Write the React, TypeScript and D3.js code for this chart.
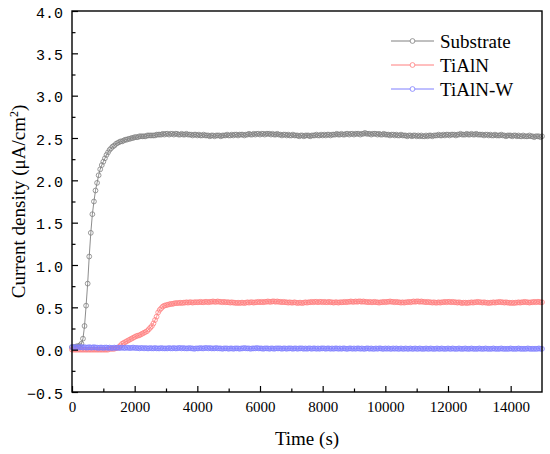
import { useEffect, useRef } from 'react';
import * as d3 from 'd3';

// sampling interval of the potentiostat record (s)
const sampleInterval = 50;

const seriesNames = ['Substrate', 'TiAlN', 'TiAlN-W'];
const seriesColors = ['#808080', '#ff7f7f', '#7f7fff'];

const xTicks = [0, 2000, 4000, 6000, 8000, 10000, 12000, 14000];
const xMinorTicks = [1000, 3000, 5000, 7000, 9000, 11000, 13000];
const yTicks = [-0.5, 0, 0.5, 1, 1.5, 2, 2.5, 3, 3.5, 4];
const yMinorTicks = [-0.25, 0.25, 0.75, 1.25, 1.75, 2.25, 2.75, 3.25, 3.75];

// current density, µA/cm², one value per sample
const substrate = [
  0.03, 0.03, 0.03, 0.04, 0.04, 0.05, 0.07,
  0.13, 0.28, 0.52, 0.78, 1.10, 1.38, 1.60, 1.75, 1.88, 1.97, 2.06, 2.13, 2.18, 2.22,
  2.26, 2.30, 2.33, 2.36, 2.38, 2.40, 2.41, 2.43, 2.44, 2.45, 2.46, 2.46, 2.47, 2.48, 2.48, 2.49, 2.49, 2.50, 2.50, 2.51,
  2.51, 2.51, 2.52, 2.52, 2.52, 2.52, 2.52, 2.53, 2.53, 2.53, 2.53, 2.53, 2.53, 2.54, 2.54, 2.54, 2.54, 2.55, 2.54, 2.55,
  2.55, 2.54, 2.55, 2.55, 2.54, 2.55, 2.55, 2.54, 2.54, 2.55, 2.54, 2.54, 2.55, 2.54, 2.54, 2.54, 2.53, 2.54, 2.54, 2.53,
  2.54, 2.53, 2.53, 2.54, 2.53, 2.53, 2.53, 2.52, 2.53, 2.53, 2.52, 2.53, 2.53, 2.53, 2.52, 2.53, 2.53, 2.53, 2.54, 2.53,
  2.53, 2.54, 2.53, 2.54, 2.54, 2.53, 2.54, 2.54, 2.54, 2.53, 2.54, 2.54, 2.55, 2.54, 2.54, 2.55, 2.54, 2.55, 2.55, 2.54,
  2.55, 2.55, 2.54, 2.55, 2.55, 2.55, 2.54, 2.55, 2.54, 2.54, 2.55, 2.54, 2.54, 2.53, 2.54, 2.54, 2.53, 2.54, 2.53, 2.53,
  2.54, 2.53, 2.53, 2.53, 2.52, 2.53, 2.53, 2.52, 2.53, 2.53, 2.53, 2.52, 2.53, 2.53, 2.53, 2.54, 2.53, 2.53, 2.54, 2.53,
  2.54, 2.53, 2.54, 2.54, 2.53, 2.54, 2.54, 2.54, 2.55, 2.54, 2.54, 2.55, 2.54, 2.54, 2.55, 2.55, 2.54, 2.55, 2.55, 2.54,
  2.55, 2.55, 2.55, 2.54, 2.55, 2.55, 2.56, 2.55, 2.55, 2.55, 2.54, 2.55, 2.55, 2.55, 2.54, 2.55, 2.54, 2.54, 2.55, 2.54,
  2.54, 2.54, 2.53, 2.54, 2.54, 2.53, 2.54, 2.53, 2.53, 2.54, 2.53, 2.53, 2.53, 2.52, 2.53, 2.53, 2.52, 2.53, 2.53, 2.52,
  2.53, 2.52, 2.53, 2.52, 2.52, 2.53, 2.52, 2.53, 2.53, 2.52, 2.53, 2.53, 2.53, 2.54, 2.53, 2.53, 2.54, 2.53, 2.54, 2.54,
  2.53, 2.54, 2.54, 2.54, 2.53, 2.54, 2.54, 2.55, 2.54, 2.54, 2.54, 2.55, 2.54, 2.54, 2.55, 2.54, 2.54, 2.55, 2.54, 2.54,
  2.54, 2.54, 2.53, 2.54, 2.54, 2.53, 2.54, 2.53, 2.53, 2.54, 2.53, 2.53, 2.53, 2.54, 2.53, 2.53, 2.52, 2.53, 2.53, 2.53,
  2.52, 2.53, 2.53, 2.52, 2.53, 2.52, 2.52, 2.53, 2.52, 2.52, 2.52, 2.53, 2.52, 2.52, 2.51, 2.52, 2.52, 2.52, 2.51, 2.52,
];

const tialn = [
  0.00, 0.00, 0.00, 0.00, 0.00, 0.00, 0.00, 0.00, 0.00, 0.00, 0.00, 0.00, 0.00, 0.00, 0.00,
  0.00, 0.00, 0.00, 0.00, 0.00, 0.00, 0.00, 0.00, 0.00, 0.01, 0.01, 0.01, 0.01, 0.02, 0.02,
  0.03, 0.05, 0.07, 0.08, 0.09, 0.10, 0.11, 0.12, 0.13, 0.14, 0.15, 0.16, 0.165, 0.17, 0.18, 0.19,
  0.20, 0.21, 0.22, 0.24, 0.26, 0.28, 0.31, 0.35, 0.39, 0.44, 0.47, 0.49, 0.51, 0.52, 0.525,
  0.53, 0.535, 0.54, 0.54, 0.545, 0.55, 0.55, 0.55, 0.555, 0.55, 0.555, 0.555, 0.56, 0.555, 0.56, 0.56, 0.555, 0.56, 0.56, 0.56,
  0.56, 0.565, 0.56, 0.56, 0.565, 0.565, 0.56, 0.565, 0.565, 0.57, 0.565, 0.565, 0.57, 0.565, 0.565, 0.56, 0.565, 0.56, 0.56, 0.56,
  0.555, 0.56, 0.555, 0.555, 0.55, 0.555, 0.55, 0.555, 0.555, 0.55, 0.555, 0.56, 0.555, 0.56, 0.56, 0.555, 0.56, 0.56, 0.565, 0.56,
  0.565, 0.56, 0.565, 0.565, 0.57, 0.565, 0.565, 0.57, 0.57, 0.565, 0.57, 0.565, 0.565, 0.56, 0.565, 0.56, 0.56, 0.555, 0.56, 0.555,
  0.555, 0.56, 0.555, 0.55, 0.555, 0.555, 0.55, 0.555, 0.56, 0.555, 0.56, 0.56, 0.565, 0.56, 0.565, 0.565, 0.56, 0.565, 0.565, 0.56,
  0.565, 0.56, 0.56, 0.565, 0.56, 0.56, 0.555, 0.56, 0.56, 0.555, 0.56, 0.56, 0.56, 0.565, 0.56, 0.565, 0.565, 0.57, 0.565, 0.565,
  0.57, 0.565, 0.57, 0.57, 0.565, 0.57, 0.565, 0.565, 0.56, 0.565, 0.56, 0.56, 0.565, 0.56, 0.56, 0.555, 0.56, 0.56, 0.565, 0.56,
  0.565, 0.565, 0.57, 0.565, 0.565, 0.56, 0.565, 0.56, 0.56, 0.555, 0.56, 0.555, 0.56, 0.56, 0.565, 0.56, 0.565, 0.57, 0.565, 0.57,
  0.57, 0.565, 0.57, 0.565, 0.565, 0.56, 0.565, 0.56, 0.56, 0.555, 0.56, 0.555, 0.555, 0.56, 0.555, 0.56, 0.56, 0.565, 0.56, 0.565,
  0.565, 0.56, 0.565, 0.56, 0.56, 0.555, 0.56, 0.555, 0.55, 0.555, 0.555, 0.55, 0.555, 0.555, 0.56, 0.555, 0.56, 0.56, 0.565, 0.56,
  0.56, 0.555, 0.56, 0.555, 0.555, 0.55, 0.555, 0.555, 0.56, 0.555, 0.56, 0.56, 0.565, 0.56, 0.56, 0.555, 0.56, 0.555, 0.555, 0.55,
  0.555, 0.55, 0.555, 0.555, 0.56, 0.555, 0.56, 0.56, 0.565, 0.56, 0.56, 0.555, 0.56, 0.56, 0.565, 0.56, 0.565, 0.565, 0.56, 0.56,
];

const tialnW = [
  0.03, 0.03, 0.025, 0.03, 0.025, 0.03, 0.03, 0.025, 0.03, 0.025, 0.025, 0.03, 0.025, 0.025, 0.03, 0.025, 0.025, 0.02, 0.025, 0.025,
  0.02, 0.025, 0.025, 0.02, 0.025, 0.02, 0.02, 0.025, 0.02, 0.025, 0.02, 0.02, 0.025, 0.02, 0.02, 0.025, 0.02, 0.02, 0.02, 0.025, 0.02,
  0.02, 0.02, 0.015, 0.02, 0.02, 0.015, 0.02, 0.015, 0.015, 0.02, 0.015, 0.015, 0.02, 0.015, 0.015, 0.015, 0.02, 0.015, 0.015, 0.015,
  0.015, 0.02, 0.015, 0.015, 0.02, 0.015, 0.015, 0.02, 0.02, 0.015, 0.02, 0.015, 0.015, 0.015, 0.02, 0.015, 0.015, 0.01, 0.015, 0.015,
  0.015, 0.02, 0.015, 0.015, 0.02, 0.02, 0.015, 0.02, 0.015, 0.015, 0.015, 0.02, 0.015, 0.015, 0.015, 0.01, 0.015, 0.015, 0.015, 0.01,
  0.015, 0.015, 0.01, 0.015, 0.015, 0.015, 0.01, 0.015, 0.015, 0.02, 0.015, 0.015, 0.015, 0.01, 0.015, 0.015, 0.015, 0.02, 0.015, 0.015,
  0.015, 0.01, 0.015, 0.015, 0.015, 0.01, 0.015, 0.015, 0.01, 0.015, 0.015, 0.015, 0.015, 0.01, 0.015, 0.015, 0.01, 0.015, 0.015, 0.015,
  0.01, 0.015, 0.015, 0.01, 0.015, 0.015, 0.015, 0.01, 0.015, 0.01, 0.015, 0.015, 0.01, 0.015, 0.015, 0.01, 0.015, 0.01, 0.015, 0.015,
  0.015, 0.01, 0.015, 0.015, 0.01, 0.015, 0.01, 0.015, 0.015, 0.01, 0.015, 0.01, 0.015, 0.015, 0.01, 0.01, 0.015, 0.015, 0.01, 0.015,
  0.01, 0.015, 0.015, 0.01, 0.015, 0.01, 0.01, 0.015, 0.015, 0.01, 0.015, 0.01, 0.01, 0.015, 0.01, 0.015, 0.015, 0.01, 0.01, 0.015,
  0.01, 0.015, 0.01, 0.01, 0.015, 0.01, 0.015, 0.01, 0.01, 0.015, 0.01, 0.01, 0.015, 0.01, 0.01, 0.015, 0.01, 0.01, 0.015, 0.01,
  0.01, 0.015, 0.01, 0.01, 0.01, 0.015, 0.01, 0.01, 0.015, 0.01, 0.01, 0.01, 0.015, 0.01, 0.01, 0.015, 0.01, 0.01, 0.01, 0.015,
  0.01, 0.01, 0.015, 0.01, 0.01, 0.01, 0.015, 0.01, 0.01, 0.01, 0.015, 0.01, 0.01, 0.01, 0.015, 0.01, 0.01, 0.01, 0.01, 0.015,
  0.01, 0.01, 0.01, 0.015, 0.01, 0.01, 0.01, 0.01, 0.015, 0.01, 0.01, 0.01, 0.01, 0.015, 0.01, 0.01, 0.01, 0.01, 0.01, 0.015,
  0.01, 0.01, 0.01, 0.01, 0.015, 0.01, 0.01, 0.01, 0.01, 0.01, 0.015, 0.01, 0.01, 0.01, 0.01, 0.01, 0.01, 0.015, 0.01, 0.01,
];

const allSeries = [substrate, tialn, tialnW];

const serifFont = "'Liberation Serif', 'Times New Roman', 'DejaVu Serif', serif";
const tickFont = "'Liberation Mono', 'Courier New', 'DejaVu Sans Mono', monospace";

export default function App() {
  const svgRef = useRef<SVGSVGElement>(null);

  useEffect(() => {
    if (!svgRef.current) return;

    const svg = d3.select(svgRef.current);
    svg.selectAll('*').remove();

    const width = 550;
    const height = 454;
    const left = 72;
    const right = 542;
    const top = 11;
    const bottom = 392;

    const x = d3.scaleLinear().domain([0, 15000]).range([left, right]);
    const y = d3.scaleLinear().domain([-0.5, 4.0]).range([bottom, top]);

    svg.attr('width', width).attr('height', height);

    // Data: line plus open circle markers
    allSeries.forEach((values, si) => {
      const pts = values.map((v, i) => [i * sampleInterval, v] as [number, number]);
      const line = d3
        .line<[number, number]>()
        .x((d) => x(d[0]))
        .y((d) => y(d[1]));
      const g = svg.append('g');
      g.append('path')
        .attr('d', line(pts))
        .attr('fill', 'none')
        .attr('stroke', seriesColors[si])
        .attr('stroke-width', 0.9);
      g.selectAll('circle')
        .data(pts)
        .join('circle')
        .attr('cx', (d) => x(d[0]))
        .attr('cy', (d) => y(d[1]))
        .attr('r', 2.4)
        .attr('fill', 'none')
        .attr('stroke', seriesColors[si])
        .attr('stroke-width', 0.8);
    });

    // Axes (ticks inward)
    const xAxis = svg
      .append('g')
      .attr('transform', `translate(0,${bottom})`)
      .call(
        d3
          .axisBottom(x)
          .tickValues(xTicks)
          .tickSize(-6)
          .tickPadding(9)
          .tickFormat((d) => String(d))
      );
    xAxis.select('.domain').remove();
    xAxis
      .selectAll('text')
      .style('font-family', serifFont)
      .style('font-size', '15px')
      .attr('fill', '#000');
    xAxis.selectAll('line').attr('stroke-width', 1.2);

    const xMinor = svg
      .append('g')
      .attr('transform', `translate(0,${bottom})`)
      .call(d3.axisBottom(x).tickValues(xMinorTicks).tickSize(-3.5).tickFormat(() => ''));
    xMinor.select('.domain').remove();
    xMinor.selectAll('line').attr('stroke-width', 1.2);

    const yAxis = svg
      .append('g')
      .attr('transform', `translate(${left},0)`)
      .call(
        d3
          .axisLeft(y)
          .tickValues(yTicks)
          .tickSize(-6)
          .tickPadding(9)
          .tickFormat((d) => {
            const v = d as number;
            return v < 0 ? `\u2212${(-v).toFixed(1)}` : v.toFixed(1);
          })
      );
    yAxis.select('.domain').remove();
    yAxis
      .selectAll('text')
      .style('font-family', tickFont)
      .style('font-size', '15px')
      .attr('dy', '0.42em')
      .attr('fill', '#000');
    yAxis.selectAll('line').attr('stroke-width', 1.2);

    const yMinor = svg
      .append('g')
      .attr('transform', `translate(${left},0)`)
      .call(d3.axisLeft(y).tickValues(yMinorTicks).tickSize(-3.5).tickFormat(() => ''));
    yMinor.select('.domain').remove();
    yMinor.selectAll('line').attr('stroke-width', 1.2);

    // Frame
    svg
      .append('rect')
      .attr('x', left)
      .attr('y', top)
      .attr('width', right - left)
      .attr('height', bottom - top)
      .attr('fill', 'none')
      .attr('stroke', '#000')
      .attr('stroke-width', 1.4);

    // Axis titles
    svg
      .append('text')
      .attr('x', (left + right) / 2)
      .attr('y', 445)
      .attr('text-anchor', 'middle')
      .style('font-family', serifFont)
      .style('font-size', '19px')
      .text('Time (s)');

    const yTitle = svg
      .append('text')
      .attr('transform', `translate(25,${(top + bottom) / 2}) rotate(-90)`)
      .attr('text-anchor', 'middle')
      .style('font-family', serifFont)
      .style('font-size', '19px');
    yTitle.append('tspan').text('Current density (μA/cm');
    yTitle.append('tspan').style('font-size', '12px').attr('dy', -7).text('2');
    yTitle.append('tspan').attr('dy', 7).text(')');

    // Legend
    const legend = svg.append('g');
    seriesNames.forEach((name, i) => {
      const ly = 41 + i * 24;
      legend
        .append('line')
        .attr('x1', 391)
        .attr('x2', 434)
        .attr('y1', ly)
        .attr('y2', ly)
        .attr('stroke', seriesColors[i])
        .attr('stroke-width', 1);
      legend
        .append('circle')
        .attr('cx', 412.5)
        .attr('cy', ly)
        .attr('r', 2.4)
        .attr('fill', '#fff')
        .attr('stroke', seriesColors[i])
        .attr('stroke-width', 0.8);
      legend
        .append('text')
        .attr('x', 440)
        .attr('y', ly + 6.5)
        .style('font-family', serifFont)
        .style('font-size', '19px')
        .text(name);
    });
  }, []);

  return (
    <div style={{ position: 'absolute', left: 0, top: 0 }}>
      <svg ref={svgRef} style={{ display: 'block' }} />
    </div>
  );
}
